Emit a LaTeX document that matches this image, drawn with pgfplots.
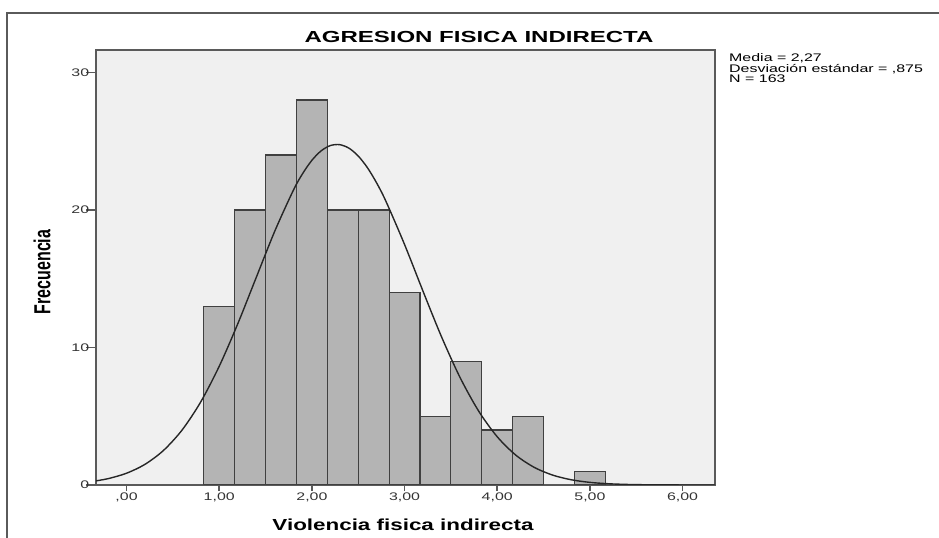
\documentclass[border=0pt]{standalone}
\usepackage{pgfplots}
\pgfplotsset{compat=1.18}
\usepackage{fontspec}
\usepackage{graphicx}
\setmainfont{Liberation Sans}
\definecolor{bgc}{RGB}{240,240,240}
\definecolor{barc}{RGB}{180,180,180}
\definecolor{framec}{RGB}{90,90,90}
\newcommand\sx[1]{\scalebox{1.45}[1]{#1}}
\begin{document}
\begin{tikzpicture}
\useasboundingbox (0bp,0bp) rectangle (939bp,538bp);
\draw[line width=1.3bp, framec] (7bp,0bp) -- (7bp,525bp) -- (939bp,525bp);
\begin{axis}[
  at={(96bp,53bp)}, anchor=south west, scale only axis,
  width=619bp, height=435bp,
  xmin=-0.33, xmax=6.35, ymin=0, ymax=31.64,
  axis background/.style={fill=bgc},
  axis line style={framec, line width=1.2bp},
  xtick={0,1,2,3,4,5,6},
  xticklabels={\sx{,00},\sx{1,00},\sx{2,00},\sx{3,00},\sx{4,00},\sx{5,00},\sx{6,00}},
  ytick={0,10,20,30},
  yticklabels={\sx{0},\sx{10},\sx{20},\sx{30}},
  xtick pos=bottom, ytick pos=left,
  tick align=outside,
  xtick style={framec, line width=1.5bp, /pgfplots/major tick length=6bp},
  ytick style={framec, line width=1.2bp, /pgfplots/major tick length=10bp},
  tick label style={font=\fontsize{11bp}{12bp}\selectfont, text=black!80},
  xticklabel style={yshift=0bp},
  yticklabel style={xshift=1bp},
  clip=true,
]
\addplot[ybar, bar width=0.3333, bar shift=0pt, fill=barc, draw=black!75, line width=1.1bp]
coordinates {(1,13) (1.3333,20) (1.6667,24) (2,28) (2.3333,20) (2.6667,20) (3,14) (3.3333,5) (3.6667,9) (4,4) (4.3333,5) (5,1)};
\addplot[smooth, black!85, line width=1.4bp, mark=none]
coordinates {(-0.35,0.280) (-0.2,0.461) (0,0.857) (0.2,1.509) (0.4,2.524) (0.6,4.008) (0.8,6.040) (1.0,8.640) (1.2,11.727) (1.4,15.110) (1.6,18.475) (1.8,21.442) (1.9,22.651) (2.0,23.619) (2.1,24.307) (2.2,24.691) (2.3,24.755) (2.4,24.498) (2.5,23.929) (2.6,23.070) (2.7,21.953) (2.8,20.618) (3.0,17.490) (3.2,14.080) (3.4,10.759) (3.6,7.802) (3.8,5.370) (4.0,3.508) (4.2,2.175) (4.4,1.280) (4.6,0.715) (4.8,0.379) (5.0,0.191) (5.2,0.091) (5.4,0.041) (5.6,0.018) (5.8,0.007) (6.0,0.003) (6.35,0.0)};
\end{axis}
\node[anchor=base, inner sep=0pt, font=\bfseries\fontsize{16bp}{18bp}\selectfont] at (479bp,495bp) {\scalebox{1.5}[1]{AGRESION FISICA INDIRECTA}};
\node[anchor=base, inner sep=0pt, font=\bfseries\fontsize{16bp}{18bp}\selectfont] at (403bp,8bp) {\scalebox{1.4}[1]{Violencia fisica indirecta}};
\node[rotate=90, inner sep=0pt, font=\bfseries\fontsize{16bp}{18bp}\selectfont] at (42bp,266bp) {\scalebox{1}[1.45]{Frecuencia}};
\node[anchor=base west, inner sep=0pt, align=left, font=\fontsize{11bp}{10.5bp}\selectfont] at (729bp,455bp) {\sx{Media = 2,27}\\\sx{Desviación estándar = ,875}\\\sx{N = 163}};
\end{tikzpicture}
\end{document}
